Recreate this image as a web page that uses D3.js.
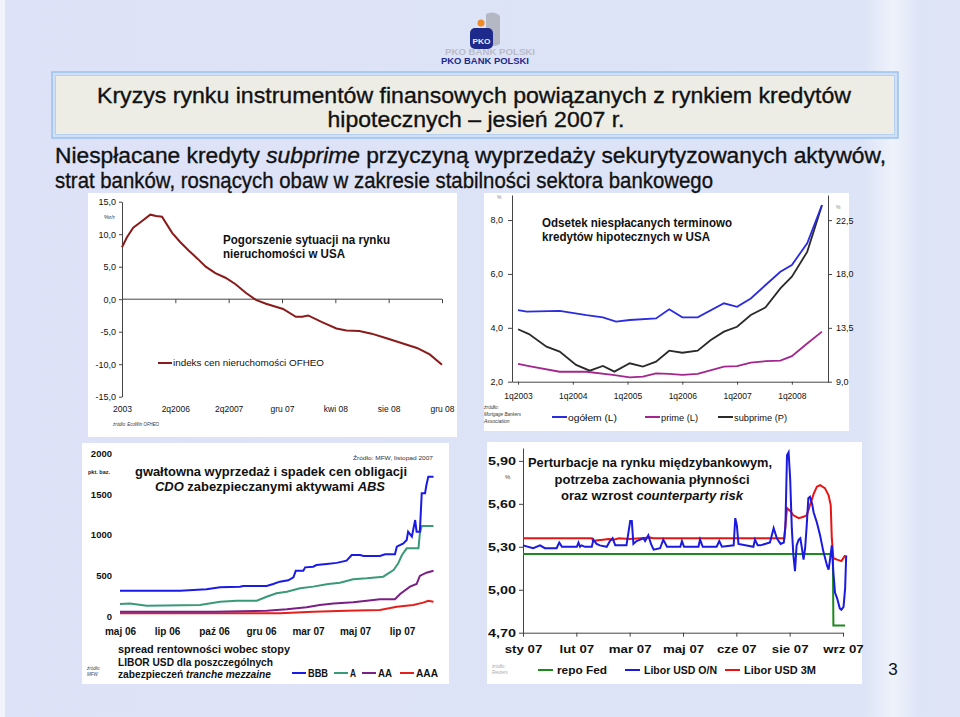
<!DOCTYPE html>
<html><head><meta charset="utf-8">
<script src="https://cdn.jsdelivr.net/npm/d3@7"></script>
<style>
html,body{margin:0;padding:0;background:#dde3f8;}
svg{display:block;}
text{font-family:"Liberation Sans",Arial,sans-serif;}
</style></head>
<body>
<svg id="s" width="960" height="717"></svg>
<script>
// ---------- DATA ----------
// Chart 1: OFHEO house price index, % y/y (x in tick units)
const c1Ticks = ["2003","2q2006","2q2007","gru 07","kwi 08","sie 08","gru 08"];
const c1YTicks = [15,10,5,0,-5,-10,-15];
const ofheo = [[0,8.0],[0.09,9.5],[0.21,11.0],[0.34,11.8],[0.53,13.0],[0.64,12.8],[0.75,12.7],[0.94,10.2],[1.09,8.8],[1.25,7.5],[1.42,6.2],[1.57,5.0],[1.75,4.0],[1.94,3.3],[2.13,2.3],[2.32,1.0],[2.51,-0.1],[2.70,-0.7],[3.02,-1.5],[3.26,-2.7],[3.38,-2.7],[3.49,-2.5],[3.74,-3.5],[4.02,-4.5],[4.21,-4.8],[4.45,-4.9],[4.68,-5.3],[4.96,-6.0],[5.34,-7.0],[5.53,-7.5],[5.77,-8.5],[6.0,-10.1]];

// Chart 2: delinquency rates (year, %)
const c2Years = [2003,2004,2005,2006,2007,2008];
const c2YearLabels = ["1q2003","1q2004","1q2005","1q2006","1q2007","1q2008"];
const c2LeftTicks = [2,4,6,8];
const c2RightTicks = [9,13.5,18,22.5];
const total = [[2003.0,4.66],[2003.16,4.60],[2003.76,4.63],[2004.25,4.47],[2004.55,4.39],[2004.79,4.23],[2005.04,4.29],[2005.52,4.35],[2005.76,4.69],[2006.0,4.39],[2006.28,4.39],[2006.76,4.91],[2007.0,4.78],[2007.25,5.09],[2007.52,5.59],[2007.79,6.08],[2008.0,6.33],[2008.28,7.14],[2008.55,8.56]];
const prime = [[2003.0,2.66],[2003.2,2.58],[2003.76,2.37],[2004.25,2.37],[2004.73,2.25],[2005.04,2.16],[2005.28,2.19],[2005.52,2.31],[2005.76,2.29],[2006.0,2.25],[2006.28,2.29],[2006.76,2.56],[2007.0,2.58],[2007.25,2.71],[2007.52,2.76],[2007.79,2.78],[2008.0,2.95],[2008.28,3.42],[2008.55,3.86]];
const subprime = [[2003.0,13.38],[2003.2,12.98],[2003.52,11.93],[2003.76,11.51],[2004.06,10.40],[2004.31,9.92],[2004.55,10.31],[2004.76,9.84],[2005.04,10.54],[2005.28,10.26],[2005.52,10.67],[2005.76,11.59],[2006.0,11.42],[2006.28,11.59],[2006.52,12.48],[2006.76,13.18],[2007.0,13.59],[2007.25,14.57],[2007.52,15.21],[2007.79,16.80],[2008.0,17.77],[2008.28,19.85],[2008.55,23.75]];

// Chart 3: CDO spreads, bp (x in tick units)
const c3Ticks = ["maj 06","lip 06","paź 06","gru 06","mar 07","maj 07","lip 07"];
const c3YTicks = [0,500,1000,1500,2000];
const bbb = [[0,311],[1.28,311],[1.84,328],[2.13,353],[2.55,361],[2.62,370],[3.12,370],[3.26,393],[3.40,422],[3.58,439],[3.69,475],[3.74,557],[3.90,557],[3.94,598],[4.11,606],[4.18,627],[4.40,639],[4.61,653],[4.82,680],[4.93,750],[5.11,750],[5.18,737],[5.53,737],[5.64,758],[5.85,758],[5.89,852],[6.03,893],[6.10,934],[6.13,1037],[6.21,975],[6.28,1180],[6.31,1037],[6.38,1037],[6.42,1508],[6.49,1508],[6.52,1610],[6.56,1713],[6.67,1713]];
const tA = [[0,147],[0.21,155],[0.57,127],[1.70,134],[2.13,176],[2.48,188],[2.91,188],[3.12,237],[3.33,279],[3.55,299],[3.83,340],[4.11,361],[4.43,393],[4.68,410],[4.96,451],[5.25,463],[5.60,483],[5.82,565],[5.92,648],[6.00,750],[6.10,832],[6.35,832],[6.38,1016],[6.42,1106],[6.67,1106]];
const tAA = [[0,53],[1.99,53],[3.12,65],[3.55,82],[3.97,107],[4.25,135],[4.54,155],[4.96,168],[5.25,188],[5.53,205],[5.85,205],[5.96,270],[6.17,361],[6.31,393],[6.38,492],[6.52,532],[6.67,557]];
const tAAA = [[0,33],[3.40,33],[4.11,53],[4.82,65],[5.53,74],[5.89,115],[6.24,135],[6.45,164],[6.56,188],[6.67,176]];

// Chart 4: money market rates, % (x in tick units)
const c4Ticks = ["sty 07","lut 07","mar 07","maj 07","cze 07","sie 07","wrz 07"];
const c4YTicks = [4.70,5.00,5.30,5.60,5.90];
const repoFed = [[0,5.25],[5.81,5.25],[5.82,4.75],[6.04,4.75]];
const liborON = [[0,5.31],[0.19,5.29],[0.32,5.31],[0.41,5.29],[0.63,5.29],[0.68,5.33],[0.73,5.30],[1.01,5.30],[1.04,5.33],[1.07,5.30],[1.10,5.31],[1.16,5.30],[1.29,5.30],[1.32,5.35],[1.38,5.32],[1.44,5.31],[1.57,5.30],[1.63,5.34],[1.68,5.36],[1.73,5.31],[1.94,5.31],[2.01,5.48],[2.04,5.48],[2.07,5.32],[2.13,5.34],[2.20,5.35],[2.26,5.36],[2.29,5.34],[2.35,5.38],[2.40,5.32],[2.45,5.28],[2.57,5.29],[2.63,5.35],[2.70,5.30],[2.95,5.30],[2.98,5.34],[3.02,5.30],[3.29,5.30],[3.32,5.35],[3.37,5.30],[3.63,5.30],[3.68,5.34],[3.73,5.30],[3.95,5.31],[3.98,5.50],[4.01,5.45],[4.04,5.32],[4.32,5.30],[4.35,5.35],[4.40,5.31],[4.45,5.31],[4.63,5.33],[4.70,5.43],[4.76,5.36],[4.83,5.32],[4.89,5.33],[4.92,5.44],[4.95,5.94],[4.98,5.96],[5.01,5.77],[5.04,5.43],[5.07,5.24],[5.10,5.13],[5.13,5.31],[5.17,5.35],[5.20,5.36],[5.23,5.29],[5.26,5.21],[5.29,5.29],[5.32,5.45],[5.35,5.64],[5.38,5.65],[5.42,5.60],[5.45,5.54],[5.51,5.47],[5.57,5.38],[5.63,5.27],[5.70,5.17],[5.73,5.14],[5.76,5.22],[5.79,5.31],[5.82,5.12],[5.85,4.98],[5.89,4.94],[5.94,4.87],[5.97,4.86],[6.01,4.88],[6.04,5.01],[6.06,5.24]];
const libor3M = [[0,5.36],[1.29,5.36],[1.32,5.34],[1.40,5.345],[1.50,5.35],[1.60,5.355],[1.70,5.35],[1.80,5.36],[2.0,5.355],[2.2,5.36],[2.38,5.365],[2.45,5.36],[4.90,5.36],[4.92,5.45],[4.95,5.57],[5.01,5.55],[5.07,5.52],[5.17,5.50],[5.26,5.51],[5.32,5.52],[5.38,5.59],[5.45,5.67],[5.51,5.72],[5.57,5.73],[5.66,5.71],[5.73,5.66],[5.77,5.59],[5.79,5.36],[5.82,5.22],[5.89,5.21],[5.97,5.20],[6.04,5.24]];

// ---------- DRAWING ----------
const svg = d3.select("#s");
const fmtPL = (d, dec) => d.toFixed(dec).replace(".", ",");

function txt(g, x, y, s, o = {}) {
  const t = g.append("text").attr("x", x).attr("y", y)
    .attr("font-size", o.size || 10)
    .attr("font-weight", o.weight || "normal")
    .attr("font-style", o.italic ? "italic" : "normal")
    .attr("text-anchor", o.anchor || "start")
    .attr("fill", o.fill || "#111");
  if (o.family) t.attr("font-family", o.family);
  if (o.stroke) t.attr("stroke", o.fill || "#111").attr("stroke-width", o.stroke);
  if (Array.isArray(s)) {
    s.forEach(p => t.append("tspan").attr("font-style", p[1] ? "italic" : null).text(p[0]));
  } else t.text(s);
  if (o.width) t.attr("textLength", o.width).attr("lengthAdjust", "spacingAndGlyphs");
  return t;
}
function stretch(sel, k) {
  sel.each(function () { const w = this.getComputedTextLength(); d3.select(this).attr("textLength", w * k).attr("lengthAdjust", "spacingAndGlyphs"); });
}

// background
const defs = svg.append("defs");
const bg = defs.append("linearGradient").attr("id", "bg").attr("x1", 0).attr("x2", 1).attr("y1", 0).attr("y2", 0);
bg.append("stop").attr("offset", "0").attr("stop-color", "#dde2f8");
bg.append("stop").attr("offset", "0.9").attr("stop-color", "#dde4f7");
bg.append("stop").attr("offset", "0.93").attr("stop-color", "#eef2fb");
bg.append("stop").attr("offset", "0.96").attr("stop-color", "#dde4f6");
bg.append("stop").attr("offset", "1").attr("stop-color", "#dfe5f7");
svg.append("rect").attr("width", 960).attr("height", 717).attr("fill", "url(#bg)");
svg.append("rect").attr("width", 5).attr("height", 717).attr("fill", "#f2f4fc");

// panels
[[88, 193, 369, 244], [484, 193, 365, 238], [82, 443, 367, 241], [487, 442, 375, 242]].forEach(p =>
  svg.append("rect").attr("x", p[0]).attr("y", p[1]).attr("width", p[2]).attr("height", p[3]).attr("fill", "#fff"));

// logo
const logo = svg.append("g");
logo.append("path").attr("d", "M486,14 q8,-4 14,2 l0,28 q-6,4 -14,0 z").attr("fill", "#b4b8c4");
logo.append("circle").attr("cx", 481).attr("cy", 23).attr("r", 3.5).attr("fill", "#f08a24");
logo.append("rect").attr("x", 470).attr("y", 28).attr("width", 23).attr("height", 21).attr("rx", 5).attr("fill", "#1d2a8c");
txt(logo, 481.5, 44, "PKO", { size: 8, weight: "bold", anchor: "middle", fill: "#e8ecf8", width: 18 });
txt(logo, 490, 55, "PKO BANK POLSKI", { size: 9, weight: "bold", anchor: "middle", fill: "#b9bcc8", width: 90 });
txt(logo, 485, 64, "PKO BANK POLSKI", { size: 9, weight: "bold", anchor: "middle", fill: "#1d2a8c", width: 88 });

// title box
svg.append("rect").attr("x", 52).attr("y", 72).attr("width", 846).attr("height", 66).attr("fill", "#cfe0f6").attr("stroke", "#9cc2ee").attr("stroke-width", 1.5);
svg.append("rect").attr("x", 55.5).attr("y", 75.5).attr("width", 839).attr("height", 59).attr("fill", "#ededE6").attr("stroke", "#b5d0f2").attr("stroke-width", 1);
const TF = '"Liberation Sans Narrow","Liberation Sans",Arial,sans-serif';
txt(svg, 474, 103, "Kryzys rynku instrumentów finansowych powiązanych z rynkiem kredytów", { size: 22.5, anchor: "middle", width: 754, family: TF, stroke: 0.35 });
txt(svg, 476, 127, "hipotecznych – jesień 2007 r.", { size: 22.5, anchor: "middle", width: 297, family: TF, stroke: 0.35 });
txt(svg, 55, 163, [["Niespłacane kredyty "], ["subprime", true], [" przyczyną wyprzedaży sekurytyzowanych aktywów,"]], { size: 22.5, width: 831, family: TF, stroke: 0.35 });
txt(svg, 55, 188, "strat banków, rosnących obaw w zakresie stabilności sektora bankowego", { size: 22.5, width: 658, family: TF, stroke: 0.35 });

// page number
txt(svg, 893, 675, "3", { size: 17, anchor: "middle", fill: "#111" });

function styleAxis(g, size, weight, family, fill) {
  g.selectAll("text").attr("font-size", size).attr("font-weight", weight || "normal").attr("fill", fill || "#111");
  if (family) g.selectAll("text").attr("font-family", family);
  g.selectAll("path,line").attr("stroke", "#444").attr("stroke-width", 1);
}

// ===== Chart 1 =====
{
  const g = svg.append("g");
  const x = d3.scaleLinear().domain([0, 6]).range([122, 442]);
  const y = d3.scaleLinear().domain([-15, 15]).range([396.7, 201.7]);
  const ya = g.append("g").attr("transform", "translate(122,0)")
    .call(d3.axisLeft(y).tickValues(c1YTicks).tickSize(3).tickSizeOuter(0).tickPadding(3).tickFormat(d => fmtPL(d, 1)));
  styleAxis(ya, 9);
  const x0 = g.append("g").attr("transform", `translate(0,${y(0)})`)
    .call(d3.axisBottom(x).tickValues(d3.range(1, 7)).tickSize(4).tickSizeOuter(0).tickFormat(""));
  styleAxis(x0, 9);
  x0.select(".domain").attr("d", `M${x(0)},0H${x(6)}`);
  const xl = g.append("g").attr("transform", `translate(0,${y(-15)})`)
    .call(d3.axisBottom(x).tickValues(d3.range(0, 7)).tickSize(0).tickPadding(9).tickFormat(i => c1Ticks[i]));
  xl.select(".domain").remove();
  styleAxis(xl, 8.5);
  g.append("path").datum(ofheo).attr("fill", "none").attr("stroke", "#8b1a1a").attr("stroke-width", 2)
    .attr("d", d3.line().x(d => x(d[0])).y(d => y(d[1])));
  txt(g, 104, 219, "%r/r", { size: 6, fill: "#333" });
  txt(g, 223, 244, "Pogorszenie sytuacji na rynku", { size: 12, weight: "bold", width: 167 });
  txt(g, 223, 258, "nieruchomości w USA", { size: 12, weight: "bold", width: 122 });
  g.append("line").attr("x1", 158).attr("x2", 172).attr("y1", 363).attr("y2", 363).attr("stroke", "#8b1a1a").attr("stroke-width", 2);
  txt(g, 173, 366, "indeks cen nieruchomości OFHEO", { size: 9, width: 151 });
  txt(g, 113, 426, "źródło: EcoWin OFHEO", { size: 5.5, italic: true, fill: "#333", width: 46 });
}

// ===== Chart 2 =====
{
  const g = svg.append("g");
  const x = d3.scaleLinear().domain([2002.89, 2008.66]).range([512, 828]);
  const yL = d3.scaleLinear().domain([2, 8.93]).range([381.7, 195]);
  const yR = d3.scaleLinear().domain([9, 24.6]).range([381.7, 195]);
  const al = g.append("g").attr("transform", "translate(512,0)")
    .call(d3.axisLeft(yL).tickValues(c2LeftTicks).tickSize(4).tickSizeOuter(0).tickPadding(5).tickFormat(d => fmtPL(d, 1)));
  styleAxis(al, 9);
  const ar = g.append("g").attr("transform", "translate(828,0)")
    .call(d3.axisRight(yR).tickValues(c2RightTicks).tickSize(4).tickSizeOuter(0).tickPadding(4).tickFormat(d => fmtPL(d, 1)));
  styleAxis(ar, 9);
  const ax = g.append("g").attr("transform", "translate(0,381.7)")
    .call(d3.axisBottom(x).tickValues(c2Years).tickSize(3).tickSizeOuter(0).tickPadding(8).tickFormat((d, i) => c2YearLabels[i]));
  styleAxis(ax, 8.5);
  const ln = (yy) => d3.line().x(d => x(d[0])).y(d => yy(d[1]));
  g.append("path").datum(subprime).attr("fill", "none").attr("stroke", "#2a2a2a").attr("stroke-width", 1.8).attr("d", ln(yR));
  g.append("path").datum(prime).attr("fill", "none").attr("stroke", "#a3268e").attr("stroke-width", 1.8).attr("d", ln(yL));
  g.append("path").datum(total).attr("fill", "none").attr("stroke", "#2b2be0").attr("stroke-width", 1.8).attr("d", ln(yL));
  txt(g, 497, 199, "%", { size: 5, fill: "#888" });
  txt(g, 836, 209, "%", { size: 5, fill: "#888" });
  txt(g, 542, 227, "Odsetek niespłacanych terminowo", { size: 12, weight: "bold", width: 190 });
  txt(g, 542, 241, "kredytów hipotecznych w USA", { size: 12, weight: "bold", width: 168 });
  const leg = [[552, "#2b2be0", "ogółem (L)", 49], [645, "#a3268e", "prime (L)", 37], [718, "#2a2a2a", "subprime (P)", 53]];
  leg.forEach(l => {
    g.append("line").attr("x1", l[0]).attr("x2", l[0] + 15).attr("y1", 417).attr("y2", 417).attr("stroke", l[1]).attr("stroke-width", 2);
    txt(g, l[0] + 16, 420.5, l[2], { size: 9, width: l[3] });
  });
  txt(g, 484, 409, "źródło:", { size: 5, italic: true, fill: "#333" });
  txt(g, 484, 416, "Mortgage Bankers", { size: 5, italic: true, fill: "#333", width: 37 });
  txt(g, 484, 423, "Association", { size: 5, italic: true, fill: "#333" });
}

// ===== Chart 3 =====
{
  const g = svg.append("g");
  const x = d3.scaleLinear().domain([0, 6]).range([120, 402]);
  const y = d3.scaleLinear().domain([0, 2000]).range([616, 453.3]);
  const ay = g.append("g").attr("transform", "translate(115,0)")
    .call(d3.axisLeft(y).tickValues(c3YTicks).tickSize(0).tickPadding(3).tickFormat(d3.format("d")));
  ay.select(".domain").remove();
  styleAxis(ay, 9.5, "bold");
  const ax = g.append("g").attr("transform", "translate(0,622)")
    .call(d3.axisBottom(x).tickValues(d3.range(0, 7)).tickSize(0).tickPadding(6).tickFormat(i => c3Ticks[i]));
  ax.select(".domain").remove();
  styleAxis(ax, 10, "bold");
  const ln = d3.line().x(d => x(d[0])).y(d => y(d[1]));
  [[tAAA, "#e5201c"], [tAA, "#7b1f86"], [tA, "#3a9a78"], [bbb, "#1a1ae8"]].forEach(s =>
    g.append("path").datum(s[0]).attr("fill", "none").attr("stroke", s[1]).attr("stroke-width", 2).attr("d", ln));
  txt(g, 88, 474, "pkt. baz.", { size: 5.5, weight: "bold", fill: "#222" });
  txt(g, 393, 459.5, "Źródło: MFW, listopad 2007", { size: 6, anchor: "middle", fill: "#333", width: 80 });
  txt(g, 271, 476, "gwałtowna wyprzedaż i spadek cen obligacji", { size: 13, weight: "bold", anchor: "middle", width: 272 });
  txt(g, 270, 491, [["CDO", true], [" zabezpieczanymi aktywami "], ["ABS", true]], { size: 13, weight: "bold", anchor: "middle", width: 230 });
  txt(g, 118, 653, "spread rentowności wobec stopy", { size: 10, weight: "bold", width: 172 });
  txt(g, 118, 665.5, "LIBOR USD dla poszczególnych", { size: 10, weight: "bold", width: 155 });
  txt(g, 118, 678, [["zabezpieczeń "], ["tranche mezzaine", true]], { size: 10, weight: "bold", width: 153 });
  txt(g, 87, 670, "źródło:", { size: 4.5, italic: true, fill: "#444" });
  txt(g, 87, 676, "MFW", { size: 4.5, italic: true, fill: "#444" });
  const leg = [[292, "#1a1ae8", "BBB", 20], [334, "#3a9a78", "A", 6], [362, "#7b1f86", "AA", 14], [400, "#e5201c", "AAA", 22]];
  leg.forEach(l => {
    g.append("line").attr("x1", l[0]).attr("x2", l[0] + 14).attr("y1", 673).attr("y2", 673).attr("stroke", l[1]).attr("stroke-width", 2);
    txt(g, l[0] + 16, 677, l[2], { size: 10, weight: "bold", width: l[3] });
  });
}

// ===== Chart 4 =====
{
  const g = svg.append("g");
  const SF = '"Liberation Serif","Times New Roman",serif';
  const x = d3.scaleLinear().domain([0, 6]).range([523, 843]);
  const y = d3.scaleLinear().domain([4.70, 5.99]).range([632.7, 448]);
  const ay = g.append("g").attr("transform", "translate(523,0)")
    .call(d3.axisLeft(y).tickValues(c4YTicks).tickSize(4).tickSizeOuter(0).tickPadding(3).tickFormat(d => fmtPL(d, 2)));
  styleAxis(ay, 11.5, "bold", SF);
  const ax = g.append("g").attr("transform", "translate(0,632.7)")
    .call(d3.axisBottom(x).tickValues(d3.range(0, 7)).tickSize(4).tickSizeOuter(0).tickPadding(8).tickFormat(i => c4Ticks[i]));
  styleAxis(ax, 11.5, "bold", SF);
  stretch(ay.selectAll("text"), 1.25);
  stretch(ax.selectAll("text"), 1.15);
  const ln = d3.line().x(d => x(d[0])).y(d => y(d[1]));
  [[repoFed, "#1e8a1e"], [libor3M, "#e81414"], [liborON, "#1a1ae0"]].forEach(s =>
    g.append("path").datum(s[0]).attr("fill", "none").attr("stroke", s[1]).attr("stroke-width", 2).attr("d", ln));
  txt(g, 505, 479, "%", { size: 6, fill: "#444" });
  txt(g, 650, 467, "Perturbacje na rynku międzybankowym,", { size: 13, weight: "bold", anchor: "middle", width: 244 });
  txt(g, 652, 483.5, "potrzeba zachowania płynności", { size: 13, weight: "bold", anchor: "middle", width: 195 });
  txt(g, 652, 500, [["oraz wzrost "], ["counterparty risk", true]], { size: 13, weight: "bold", anchor: "middle", width: 182 });
  const leg = [[538, "#1e8a1e", "repo Fed", 50], [625, "#1a1ae0", "Libor USD O/N", 73], [725, "#e81414", "Libor USD 3M", 72]];
  leg.forEach(l => {
    g.append("line").attr("x1", l[0]).attr("x2", l[0] + 15).attr("y1", 670).attr("y2", 670).attr("stroke", l[1]).attr("stroke-width", 2);
    txt(g, l[0] + 19, 674, l[2], { size: 11, weight: "bold", width: l[3] });
  });
  txt(g, 492, 668, "źródło:", { size: 4.5, italic: true, fill: "#aaa" });
  txt(g, 492, 674, "Reuters", { size: 4.5, italic: true, fill: "#aaa" });
}
</script>
</body></html>
